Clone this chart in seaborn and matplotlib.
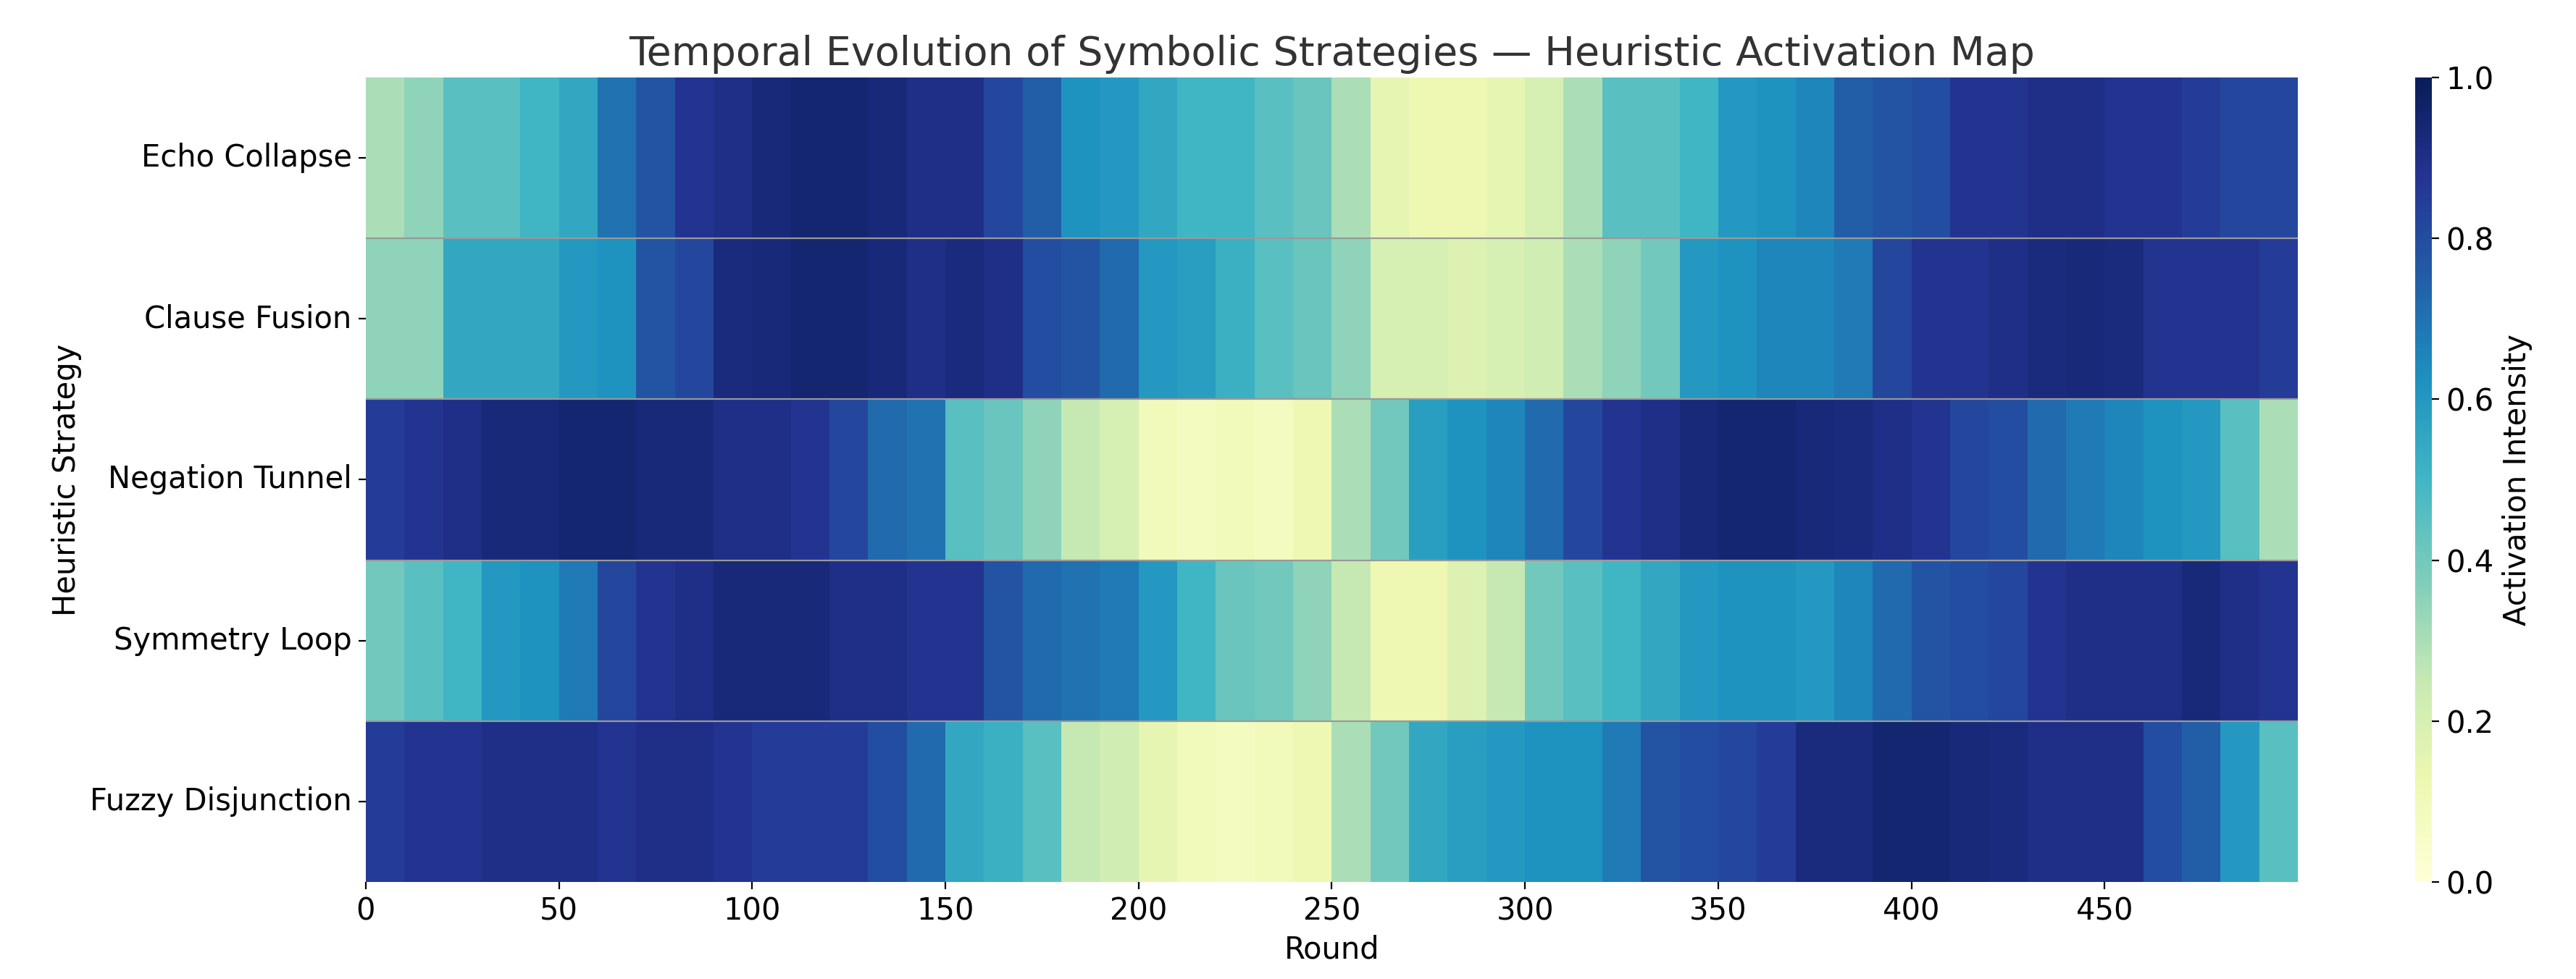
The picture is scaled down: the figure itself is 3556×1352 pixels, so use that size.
import numpy as np
import pandas as pd
import seaborn as sns
import matplotlib.pyplot as plt

strategies = ["Echo Collapse", "Clause Fusion", "Negation Tunnel", "Symmetry Loop", "Fuzzy Disjunction"]
# estimated activation per 10-round bin (50 bins -> rounds 0..499)
echo = [0.3,0.35,0.45,0.45,0.5,0.55,0.7,0.78,0.88,0.9,0.93,0.95,0.95,0.93,0.9,0.9,0.82,0.75,0.62,0.6,
        0.55,0.5,0.5,0.45,0.42,0.3,0.15,0.12,0.12,0.15,0.2,0.3,0.45,0.45,0.5,0.6,0.62,0.65,0.75,0.78,
        0.8,0.88,0.88,0.9,0.9,0.88,0.88,0.85,0.82,0.82]
clause = [0.35,0.35,0.55,0.55,0.55,0.6,0.62,0.78,0.82,0.92,0.93,0.95,0.95,0.93,0.9,0.92,0.9,0.8,0.78,0.72,
          0.6,0.58,0.52,0.45,0.42,0.35,0.2,0.2,0.18,0.2,0.22,0.3,0.35,0.4,0.6,0.62,0.65,0.65,0.68,0.82,
          0.88,0.88,0.9,0.92,0.93,0.92,0.88,0.88,0.88,0.85]
negation = [0.85,0.88,0.9,0.93,0.93,0.95,0.95,0.93,0.93,0.9,0.9,0.88,0.82,0.72,0.7,0.45,0.42,0.35,0.25,0.2,
            0.1,0.08,0.1,0.08,0.12,0.3,0.4,0.58,0.62,0.65,0.72,0.82,0.88,0.9,0.93,0.95,0.95,0.93,0.92,0.9,
            0.88,0.82,0.8,0.72,0.68,0.65,0.62,0.6,0.45,0.3]
symmetry = [0.4,0.45,0.5,0.6,0.62,0.68,0.82,0.88,0.9,0.93,0.93,0.93,0.9,0.9,0.88,0.88,0.78,0.72,0.7,0.68,
            0.6,0.5,0.42,0.4,0.35,0.25,0.12,0.12,0.18,0.25,0.4,0.45,0.5,0.55,0.6,0.62,0.62,0.6,0.65,0.72,
            0.78,0.8,0.82,0.88,0.9,0.9,0.9,0.93,0.9,0.88]
fuzzy = [0.85,0.88,0.88,0.9,0.9,0.9,0.88,0.9,0.9,0.88,0.85,0.85,0.85,0.8,0.72,0.55,0.52,0.45,0.25,0.22,
         0.15,0.1,0.08,0.1,0.12,0.3,0.4,0.55,0.58,0.6,0.62,0.62,0.68,0.78,0.8,0.82,0.85,0.92,0.92,0.95,
         0.95,0.93,0.92,0.9,0.9,0.9,0.8,0.75,0.6,0.45]
bins = [echo, clause, negation, symmetry, fuzzy]
rounds = list(range(500))
tick_rounds = list(range(0, 500, 50))

data = pd.DataFrame([np.repeat(b, 10) for b in bins], index=strategies, columns=rounds)

fig = plt.figure(figsize=(17.78, 6.76), dpi=200)
ax = fig.add_axes([0.142, 0.099, 0.750, 0.822])
cax = fig.add_axes([0.9375, 0.099, 0.0065, 0.822])
hm = sns.heatmap(data, cmap="YlGnBu", vmin=0, vmax=1, ax=ax, cbar_ax=cax)
for y in range(1, 5):
    ax.axhline(y, color="#999999", lw=0.8)
ax.set_xticks(tick_rounds)
ax.set_xticklabels([str(t) for t in tick_rounds], rotation=0, fontsize=15)
ax.set_yticklabels(strategies, rotation=0, fontsize=15)
ax.set_xlabel("Round", fontsize=15)
ax.set_ylabel("Heuristic Strategy", fontsize=15)
ax.set_title("Temporal Evolution of Symbolic Strategies — Heuristic Activation Map", fontsize=20, color="#333333")
cb = hm.collections[0].colorbar
cb.ax.tick_params(labelsize=15)
cb.set_label("Activation Intensity", fontsize=15)
fig.savefig("out.png", dpi=200)
